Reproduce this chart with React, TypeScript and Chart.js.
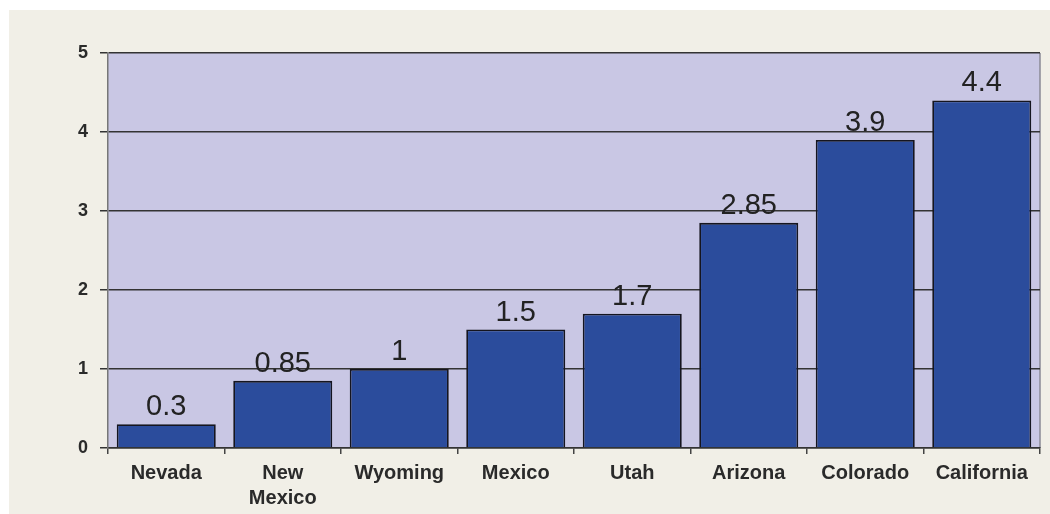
import React, { useEffect, useRef } from "react";
import { Chart, registerables } from "chart.js";

Chart.register(...registerables);

const categories: (string | string[])[] = ["Nevada", ["New", "Mexico"], "Wyoming", "Mexico", "Utah", "Arizona", "Colorado", "California"];
const values: number[] = [0.3, 0.85, 1, 1.5, 1.7, 2.85, 3.9, 4.4];
const valueLabels: string[] = ["0.3", "0.85", "1", "1.5", "1.7", "2.85", "3.9", "4.4"];
const yTicks: number[] = [0, 1, 2, 3, 4, 5];

const FONT = "'Liberation Sans', Arial, sans-serif";

const bgPlugin = {
  id: "bgPlugin",
  beforeDraw(chart: any) {
    const { ctx, chartArea, width, height } = chart;
    ctx.save();
    ctx.fillStyle = "#ffffff";
    ctx.fillRect(0, 0, width, height);
    ctx.fillStyle = "#f1efe7";
    ctx.fillRect(9, 10, width - 9, height - 10);
    ctx.fillStyle = "#c9c7e4";
    ctx.fillRect(chartArea.left, chartArea.top, chartArea.right - chartArea.left, chartArea.bottom - chartArea.top);
    ctx.strokeStyle = "#8a8a96";
    ctx.lineWidth = 1.5;
    ctx.beginPath();
    ctx.moveTo(chartArea.right, chartArea.top);
    ctx.lineTo(chartArea.right, chartArea.bottom);
    ctx.stroke();
    ctx.restore();
  },
};

const labelPlugin = {
  id: "labelPlugin",
  afterDatasetsDraw(chart: any) {
    const { ctx } = chart;
    const meta = chart.getDatasetMeta(0);
    ctx.save();
    ctx.fillStyle = "#222222";
    ctx.font = `29px ${FONT}`;
    ctx.textAlign = "center";
    ctx.textBaseline = "alphabetic";
    meta.data.forEach((bar: any, i: number) => {
      ctx.fillText(valueLabels[i], bar.x, bar.y - 9);
    });
    ctx.restore();
  },
};

export default function App() {
  const ref = useRef<HTMLCanvasElement>(null);
  useEffect(() => {
    document.body.style.margin = "0";
    const chart = new Chart(ref.current!, {
      type: "bar",
      data: {
        labels: categories,
        datasets: [
          {
            data: values,
            backgroundColor: "#2b4c9c",
            borderColor: "#15151f",
            borderWidth: 1.8,
            barPercentage: 0.85,
            categoryPercentage: 1,
          },
        ],
      },
      options: {
        animation: false,
        responsive: false,
        maintainAspectRatio: false,
        layout: { padding: { left: 0, right: 10, top: 53, bottom: 0 } },
        plugins: { legend: { display: false }, tooltip: { enabled: false } },
        scales: {
          x: {
            grid: { drawOnChartArea: false, drawTicks: true, tickLength: 6, color: "#444", lineWidth: 1.5 },
            border: { color: "#333", width: 1.5 },
            ticks: { font: { family: FONT, size: 20, weight: "bold", lineHeight: 1.25 }, color: "#2a2a2a", padding: 7, maxRotation: 0, autoSkip: false },
            afterFit(scale: any) {
              scale.height = 66;
            },
          },
          y: {
            min: 0,
            max: 5,
            afterBuildTicks(scale: any) {
              scale.ticks = yTicks.map((v) => ({ value: v }));
            },
            grid: { color: "#333", lineWidth: 1.5, tickLength: 8 },
            border: { color: "#777", width: 1.5 },
            ticks: { font: { family: FONT, size: 18, weight: "bold" }, color: "#2a2a2a", padding: 12 },
            afterFit(scale: any) {
              scale.width = 108;
            },
          },
        },
      },
      plugins: [bgPlugin, labelPlugin],
    });
    return () => chart.destroy();
  }, []);
  return <canvas ref={ref} width={1050} height={514} style={{ display: "block" }} />;
}
